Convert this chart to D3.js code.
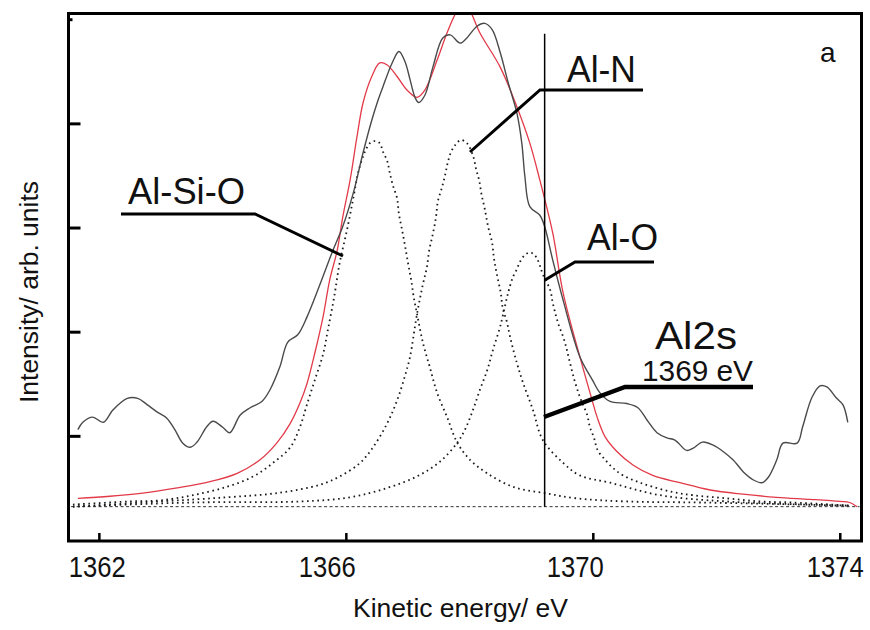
<!DOCTYPE html>
<html>
<head>
<meta charset="utf-8">
<script src="https://cdn.jsdelivr.net/npm/d3@7"></script>
<style>
  html, body { margin: 0; padding: 0; background: #fff; }
  svg { display: block; font-family: "Liberation Sans", Arial, Helvetica, sans-serif; }
</style>
</head>
<body>
<svg id="chart" width="870" height="630"></svg>
<script>
// ---------------- DATA ----------------
const xTicks = [1362, 1366, 1370, 1374];
const xTickLabels = ["1362", "1366", "1370", "1374"];
const yTicks = [1, 2, 3, 4, 5];

// Experimental Al2s spectrum (kinetic energy eV, intensity arb. units)
const experimental = [
  [1361.66,1.06],[1361.74,1.13],[1361.90,1.18],[1362.07,1.13],[1362.23,1.25],[1362.46,1.36],
  [1362.63,1.36],[1362.78,1.30],[1362.94,1.23],[1363.10,1.17],[1363.23,1.06],[1363.36,0.93],
  [1363.48,0.89],[1363.59,0.94],[1363.75,1.09],[1363.85,1.14],[1364.01,1.08],[1364.12,1.03],
  [1364.29,1.20],[1364.45,1.27],[1364.64,1.33],[1364.77,1.44],[1364.93,1.66],[1365.06,1.90],
  [1365.22,1.97],[1365.37,2.14],[1365.63,2.53],[1365.79,2.78],[1365.95,3.01],[1366.12,3.33],
  [1366.28,3.72],[1366.42,4.03],[1366.52,4.22],[1366.60,4.35],[1366.75,4.58],[1366.86,4.69],
  [1366.96,4.59],[1367.04,4.42],[1367.12,4.25],[1367.18,4.20],[1367.28,4.27],[1367.41,4.54],
  [1367.57,4.82],[1367.69,4.85],[1367.85,4.77],[1367.96,4.82],[1368.12,4.93],[1368.25,4.96],
  [1368.37,4.90],[1368.50,4.68],[1368.63,4.39],[1368.77,4.10],[1368.85,3.81],[1368.90,3.49],
  [1368.98,3.20],[1369.14,3.12],[1369.22,3.01],[1369.35,2.69],[1369.52,2.30],[1369.79,1.76],
  [1369.99,1.54],[1370.12,1.41],[1370.28,1.33],[1370.55,1.31],[1370.73,1.27],[1370.88,1.15],
  [1371.04,1.03],[1371.20,0.98],[1371.33,0.96],[1371.52,0.86],[1371.62,0.88],[1371.78,0.94],
  [1371.95,0.91],[1372.11,0.85],[1372.27,0.77],[1372.46,0.64],[1372.59,0.58],[1372.74,0.55],
  [1372.84,0.60],[1372.98,0.77],[1373.08,0.93],[1373.31,0.93],[1373.40,1.09],[1373.55,1.37],
  [1373.68,1.48],[1373.79,1.47],[1373.95,1.36],[1374.05,1.30],[1374.13,1.13]
];

// Fitted envelope (red)
const envelope = [
  [1361.66,0.40],[1362.18,0.42],[1362.71,0.45],[1363.27,0.50],[1363.80,0.56],[1364.24,0.64],
  [1364.61,0.77],[1364.88,0.93],[1365.10,1.12],[1365.26,1.32],[1365.37,1.50],[1365.50,1.80],
  [1365.63,2.14],[1365.74,2.50],[1365.86,2.78],[1365.95,3.10],[1366.07,3.46],[1366.18,3.87],
  [1366.28,4.20],[1366.42,4.45],[1366.55,4.58],[1366.67,4.56],[1366.83,4.45],[1366.99,4.32],
  [1367.15,4.25],[1367.28,4.32],[1367.48,4.61],[1367.64,4.87],[1367.80,5.08],[1367.90,5.15],
  [1368.01,5.08],[1368.17,4.87],[1368.50,4.54],[1368.77,4.16],[1368.98,3.81],[1369.14,3.46],
  [1369.35,2.95],[1369.52,2.37],[1369.79,1.76],[1369.99,1.34],[1370.07,1.18],[1370.20,0.99],
  [1370.39,0.85],[1370.65,0.72],[1370.97,0.62],[1371.41,0.55],[1371.90,0.48],[1372.43,0.44],
  [1372.98,0.41],[1373.52,0.39],[1374.00,0.37],[1374.16,0.36],[1374.28,0.32]
];

// Component Al-Si-O (dotted)
const peakAlSiO = [
  [1361.58,0.34],[1362.50,0.37],[1362.99,0.38],[1363.52,0.43],[1364.07,0.51],[1364.50,0.61],
  [1364.82,0.74],[1365.10,0.89],[1365.26,1.09],[1365.37,1.30],[1365.50,1.54],[1365.63,1.78],
  [1365.71,2.02],[1365.81,2.33],[1365.90,2.66],[1366.02,2.98],[1366.12,3.28],[1366.20,3.53],
  [1366.26,3.65],[1366.31,3.73],[1366.39,3.81],[1366.47,3.83],[1366.55,3.81],[1366.60,3.73],
  [1366.67,3.64],[1366.71,3.53],[1366.76,3.41],[1366.83,3.28],[1366.86,3.13],[1366.91,2.98],
  [1366.96,2.82],[1367.01,2.65],[1367.06,2.49],[1367.10,2.33],[1367.15,2.18],[1367.25,1.89],
  [1367.36,1.66],[1367.48,1.41],[1367.64,1.18],[1367.80,0.94],[1368.01,0.77],[1368.29,0.64],
  [1368.71,0.51],[1369.22,0.45],[1369.74,0.40],[1370.55,0.37],[1371.74,0.36],[1374.16,0.33]
];

// Component Al-N (dotted)
const peakAlN = [
  [1361.58,0.32],[1362.99,0.37],[1364.07,0.41],[1364.88,0.45],[1365.58,0.53],[1365.90,0.61],
  [1366.23,0.74],[1366.44,0.89],[1366.67,1.12],[1366.83,1.34],[1366.96,1.58],[1367.04,1.76],
  [1367.15,2.16],[1367.25,2.46],[1367.31,2.61],[1367.35,2.78],[1367.41,2.94],[1367.46,3.10],
  [1367.49,3.25],[1367.56,3.39],[1367.61,3.51],[1367.65,3.62],[1367.70,3.72],[1367.77,3.79],
  [1367.86,3.84],[1367.96,3.81],[1368.06,3.69],[1368.11,3.56],[1368.16,3.45],[1368.20,3.31],
  [1368.25,3.18],[1368.30,3.02],[1368.37,2.85],[1368.40,2.70],[1368.45,2.54],[1368.51,2.37],
  [1368.54,2.23],[1368.61,2.09],[1368.66,1.95],[1368.77,1.70],[1368.87,1.51],[1369.03,1.25],
  [1369.19,0.96],[1369.52,0.74],[1369.79,0.62],[1370.28,0.55],[1371.09,0.43],[1372.17,0.37],
  [1374.16,0.33]
];

// Component Al-O (dotted)
const peakAlO = [
  [1361.58,0.32],[1363.52,0.36],[1365.26,0.37],[1366.07,0.41],[1366.67,0.50],[1367.15,0.61],
  [1367.52,0.75],[1367.80,0.93],[1367.93,1.06],[1368.06,1.25],[1368.17,1.44],[1368.29,1.63],
  [1368.38,1.82],[1368.50,2.05],[1368.61,2.33],[1368.66,2.44],[1368.71,2.53],[1368.77,2.60],
  [1368.82,2.67],[1368.89,2.73],[1368.97,2.76],[1369.03,2.75],[1369.09,2.71],[1369.14,2.64],
  [1369.19,2.55],[1369.31,2.40],[1369.35,2.28],[1369.40,2.16],[1369.45,2.06],[1369.52,1.95],
  [1369.57,1.85],[1369.61,1.75],[1369.66,1.63],[1369.71,1.52],[1369.78,1.39],[1369.84,1.30],
  [1369.91,1.20],[1369.95,1.09],[1370.02,0.98],[1370.08,0.86],[1370.20,0.77],[1370.33,0.69],
  [1370.49,0.62],[1370.72,0.56],[1370.97,0.51],[1371.30,0.46],[1371.62,0.43],[1372.17,0.40],
  [1372.71,0.37],[1373.24,0.36],[1374.16,0.33]
];

const baselineLevel = 0.32;
const baselineRange = [1361.55, 1374.32];
const markerEnergy = 1369.22;        // vertical line (Al2s 1369 eV)
const markerRange = [0.32, 4.86];

const componentLabels = ["Al-Si-O", "Al-N", "Al-O"];
const lineLabelTitle = "Al2s";
const lineLabelEnergy = "1369 eV";
const panelLetter = "a";
const xAxisTitle = "Kinetic energy/ eV";
const yAxisTitle = "Intensity/ arb. units";

// ---------------- LAYOUT ----------------
const svg = d3.select("#chart");
const plot = { left: 68.5, right: 861.5, top: 13.5, bottom: 541 };

const x = d3.scaleLinear().domain([1361.5, 1374.36]).range([68, 862]);
const y = d3.scaleLinear().domain([0, 5.05]).range([540, 14]);

svg.append("rect").attr("width", 870).attr("height", 630).attr("fill", "#fff");

svg.append("defs").append("clipPath").attr("id", "plotClip")
  .append("rect")
  .attr("x", plot.left + 1.5).attr("y", plot.top + 1.5)
  .attr("width", plot.right - plot.left - 3).attr("height", plot.bottom - plot.top - 3);

const g = svg.append("g").attr("clip-path", "url(#plotClip)");

const line = d3.line().x(d => x(d[0])).y(d => y(d[1])).curve(d3.curveCatmullRom.alpha(0.5));

// baseline (dashed)
g.append("path")
  .attr("d", d3.line()([[x(baselineRange[0]), y(baselineLevel)], [x(baselineRange[1]), y(baselineLevel)]]))
  .attr("fill", "none").attr("stroke", "#333").attr("stroke-width", 1)
  .attr("stroke-dasharray", "3 2.5");

// components (dotted)
[peakAlSiO, peakAlN, peakAlO].forEach(p => {
  g.append("path").datum(p).attr("d", line)
    .attr("fill", "none").attr("stroke", "#1a1a1a").attr("stroke-width", 1.8)
    .attr("stroke-dasharray", "1.6 3.6");
});

// envelope (red)
g.append("path").datum(envelope).attr("d", line)
  .attr("fill", "none").attr("stroke", "#e23a48").attr("stroke-width", 1.3);

// experimental (gray)
g.append("path").datum(experimental).attr("d", line)
  .attr("fill", "none").attr("stroke", "#4a4a4a").attr("stroke-width", 1.4);

// vertical marker
g.append("line")
  .attr("x1", x(markerEnergy)).attr("x2", x(markerEnergy))
  .attr("y1", y(markerRange[0])).attr("y2", y(markerRange[1]))
  .attr("stroke", "#000").attr("stroke-width", 1.5);

// ---------------- AXES ----------------
const xAxis = d3.axisBottom(x).tickValues(xTicks).tickFormat((d, i) => xTickLabels[i])
  .tickSizeInner(-8).tickSizeOuter(0).tickPadding(13);
const gx = svg.append("g").attr("transform", `translate(0,${plot.bottom})`).call(xAxis);
gx.select(".domain").remove();
gx.selectAll(".tick line").attr("stroke", "#000").attr("stroke-width", 2.5);
const labelShift = [-2, -19, -18, -5];
gx.selectAll(".tick text")
  .attr("fill", "#111")
  .style("font-size", "29px")
  .style("font-family", "'Liberation Sans', Arial, sans-serif")
  .attr("dy", "0.78em")
  .attr("dx", (d, i) => labelShift[i])
  .attr("textLength", 57).attr("lengthAdjust", "spacingAndGlyphs");

const yAxis = d3.axisLeft(y).tickValues(yTicks).tickFormat("").tickSizeInner(-12).tickSizeOuter(0);
const gy = svg.append("g").attr("transform", `translate(${plot.left},0)`).call(yAxis);
gy.select(".domain").remove();
gy.selectAll(".tick line").attr("stroke", "#000").attr("stroke-width", 3)
  .attr("x2", d => d === 5 ? 4 : 12);

// frame
svg.append("rect")
  .attr("x", plot.left).attr("y", plot.top)
  .attr("width", plot.right - plot.left).attr("height", plot.bottom - plot.top)
  .attr("fill", "none").attr("stroke", "#000").attr("stroke-width", 3);

// axis titles
svg.append("text").attr("x", 460.5).attr("y", 617).attr("text-anchor", "middle")
  .style("font-size", "26px").attr("fill", "#111").attr("textLength", 215).attr("lengthAdjust", "spacingAndGlyphs")
  .text(xAxisTitle);
svg.append("text").attr("transform", "translate(38,292) rotate(-90)").attr("text-anchor", "middle")
  .style("font-size", "26.5px").attr("fill", "#111").attr("textLength", 222).attr("lengthAdjust", "spacingAndGlyphs")
  .text(yAxisTitle);

// ---------------- ANNOTATIONS ----------------
const ann = svg.append("g");
function leader(points, w) {
  ann.append("path").attr("d", d3.line()(points))
    .attr("fill", "none").attr("stroke", "#000").attr("stroke-width", w)
    .attr("stroke-linejoin", "miter");
}
function label(t, px, py, size, len) {
  const el = ann.append("text").attr("x", px).attr("y", py)
    .style("font-size", size + "px").attr("fill", "#111").text(t);
  if (len) el.attr("textLength", len).attr("lengthAdjust", "spacingAndGlyphs");
}

label(componentLabels[0], 128, 204, 36, 117);
leader([[121, 214], [255, 214], [343, 256]], 3);

label(componentLabels[1], 567, 82, 36, 69);
leader([[470, 152], [540, 90], [643, 90]], 3);

label(componentLabels[2], 587, 250, 36, 71);
leader([[545, 280], [575, 262], [654, 262]], 3);

label(lineLabelTitle, 655, 349, 38, 82);
label(lineLabelEnergy, 642, 381, 29, 111);
leader([[544, 417], [625, 387], [753, 387]], 4.5);

label(panelLetter, 820, 62, 28);
</script>
</body>
</html>
